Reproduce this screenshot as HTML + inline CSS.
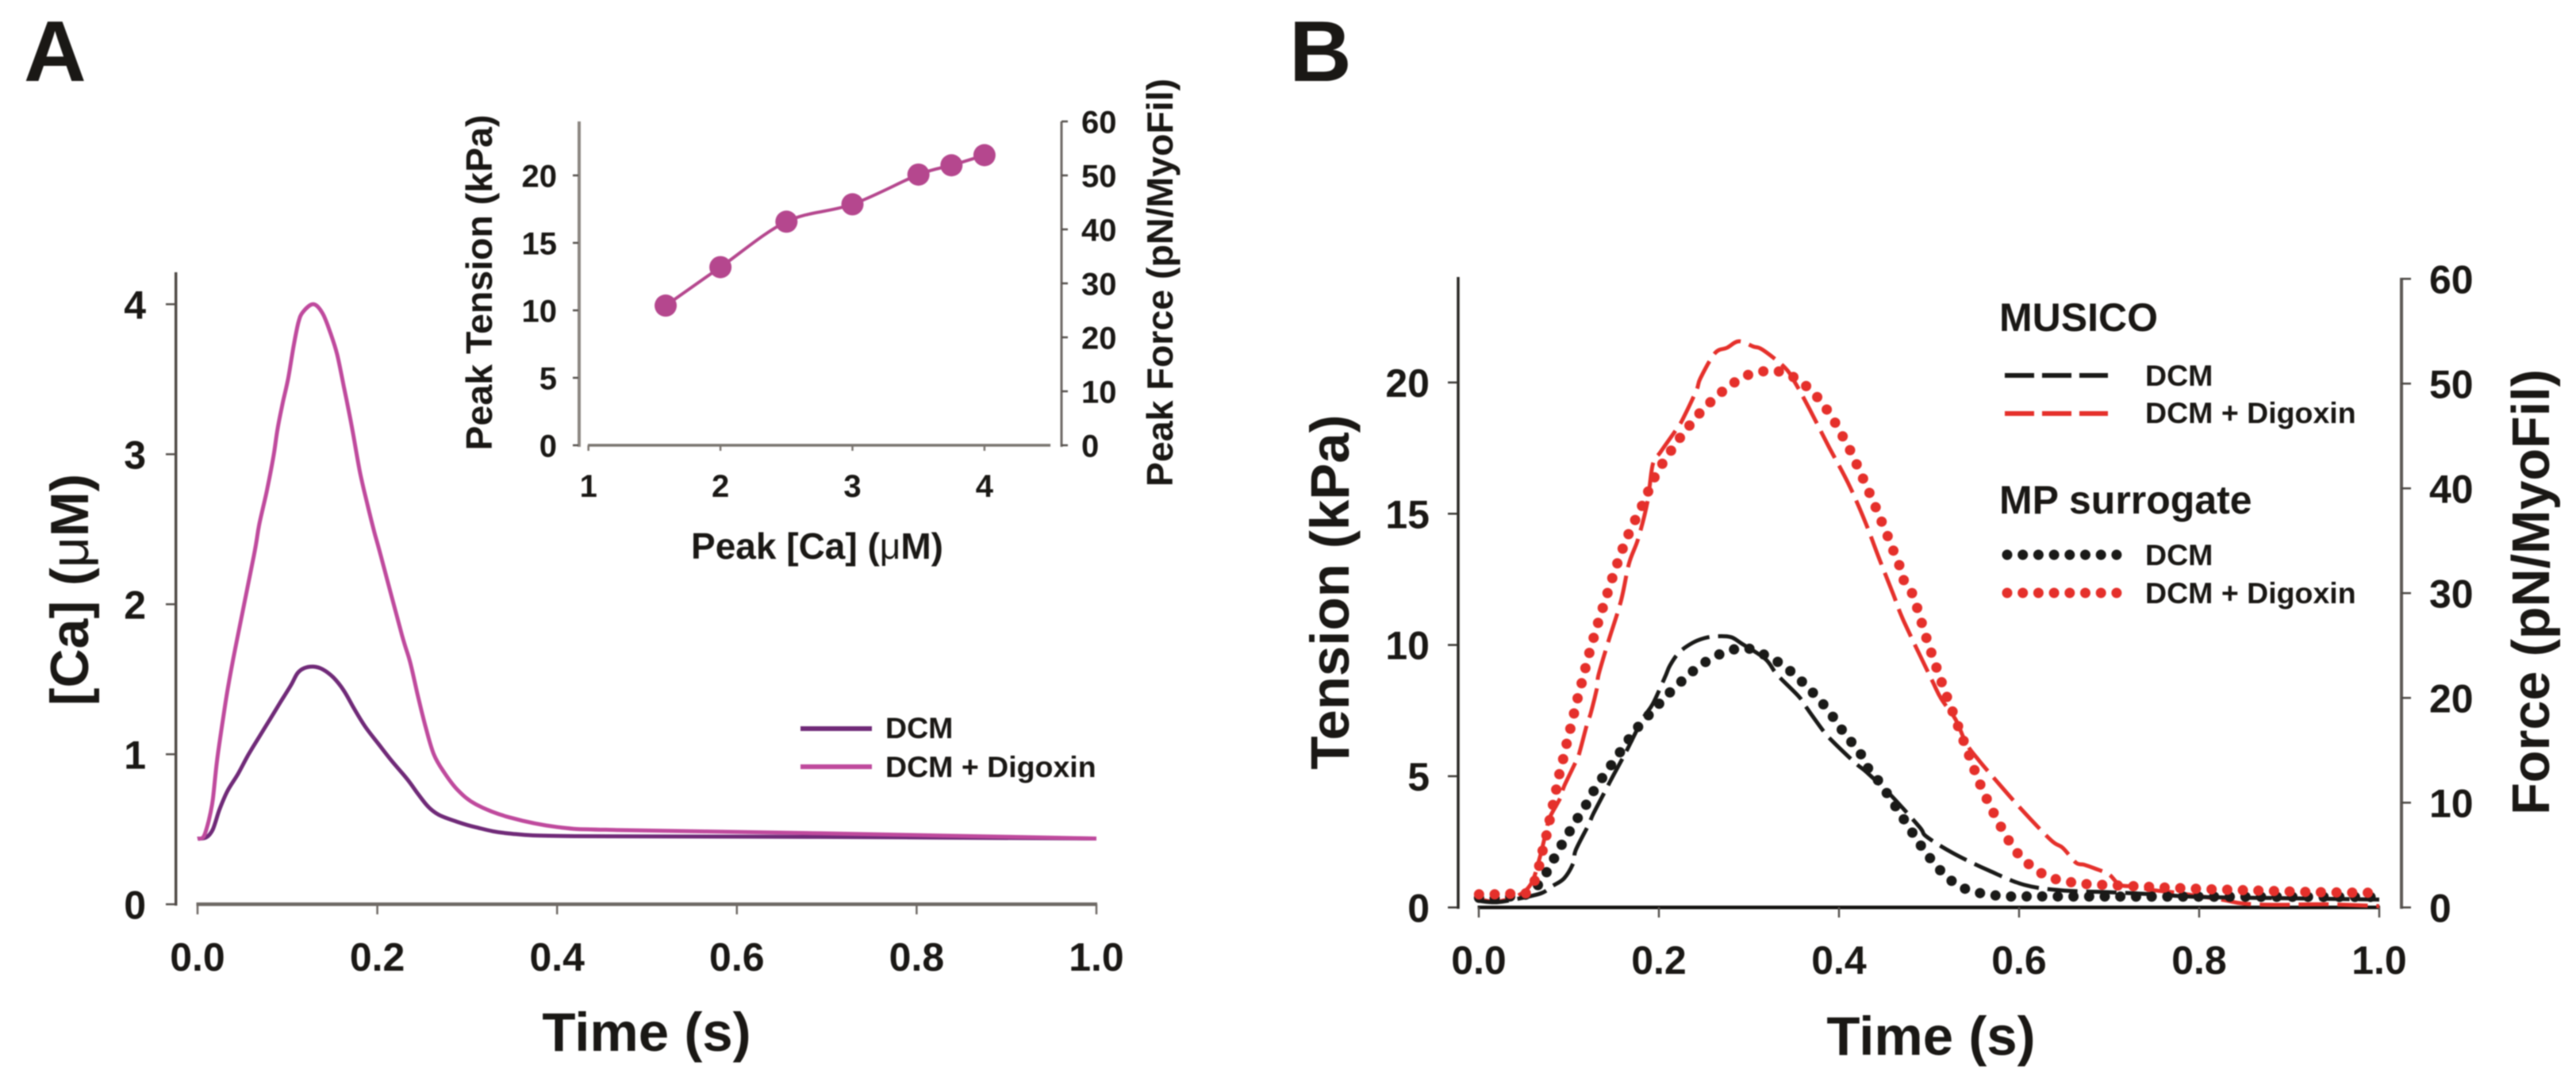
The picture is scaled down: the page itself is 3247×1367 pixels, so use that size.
<!DOCTYPE html>
<html lang="en">
<head>
<meta charset="utf-8">
<title>Calcium transient and tension, panels A and B</title>
<style>
html,body{margin:0;padding:0;background:#fff;width:3247px;height:1367px;overflow:hidden}
svg{display:block;font-family:"Liberation Sans",Arial,sans-serif;font-weight:700;fill:#1a1815;filter:blur(0.7px)}
</style>
</head>
<body>
<svg id="fig" xmlns="http://www.w3.org/2000/svg" width="3247" height="1367" viewBox="0 0 3247 1367">
  <rect width="3247" height="1367" fill="#fff"/>
  <text x="30" y="102" font-size="109">A</text>
  <text x="1625" y="102" font-size="109">B</text>

  <text x="815" y="1324" font-size="69" text-anchor="middle">Time (s)</text>
  <text transform="translate(111,743) rotate(-90)" font-size="68" text-anchor="middle">[Ca] (<tspan font-weight="400">μ</tspan>M)</text>

  <text x="1030" y="704" font-size="46" text-anchor="middle">Peak [Ca] (<tspan font-weight="400">μ</tspan>M)</text>
  <text transform="translate(620,356) rotate(-90)" font-size="46.5" text-anchor="middle">Peak Tension (kPa)</text>
  <text transform="translate(1478,356) rotate(-90)" font-size="46.5" text-anchor="middle">Peak Force (pN/MyoFil)</text>

  <g>
    <line x1="1009" x2="1099" y1="918" y2="918" stroke="#702a78" stroke-width="6"/>
    <line x1="1009" x2="1099" y1="966" y2="966" stroke="#bf4a9d" stroke-width="6"/>
    <text x="1116" y="930" font-size="37.5">DCM</text>
    <text x="1116" y="979" font-size="37.5">DCM + Digoxin</text>
  </g>

  <text x="2434" y="1329" font-size="69" text-anchor="middle">Time (s)</text>
  <text transform="translate(1700,746) rotate(-90)" font-size="69" text-anchor="middle">Tension (kPa)</text>
  <text transform="translate(3213,746) rotate(-90)" font-size="66.5" text-anchor="middle">Force (pN/MyoFil)</text>

  <g>
    <text x="2520" y="417" font-size="50">MUSICO</text>
    <line x1="2527" x2="2657" y1="473" y2="473" stroke="#1a1a18" stroke-width="6" stroke-dasharray="37 10"/>
    <line x1="2527" x2="2657" y1="521" y2="521" stroke="#e5302b" stroke-width="6" stroke-dasharray="37 10"/>
    <text x="2704" y="486" font-size="37.5">DCM</text>
    <text x="2704" y="533" font-size="37.5">DCM + Digoxin</text>
    <text x="2520" y="647" font-size="50">MP surrogate</text>
    <line x1="2530" x2="2669" y1="699" y2="699" stroke="#1a1a18" stroke-width="13" stroke-linecap="round" stroke-dasharray="0 19.7"/>
    <line x1="2530" x2="2669" y1="747" y2="747" stroke="#e5302b" stroke-width="13" stroke-linecap="round" stroke-dasharray="0 19.7"/>
    <text x="2704" y="712" font-size="37.5">DCM</text>
    <text x="2704" y="760" font-size="37.5">DCM + Digoxin</text>
  </g>
</svg>
<script>
// ---- Tick labels
const timeTicks = ["0.0", "0.2", "0.4", "0.6", "0.8", "1.0"];
const caTicks = ["0", "1", "2", "3", "4"];
const insetCaTicks = ["1", "2", "3", "4"];
const insetTensionTicks = ["0", "5", "10", "15", "20"];
const insetForceTicks = ["0", "10", "20", "30", "40", "50", "60"];
const tensionTicks = ["0", "5", "10", "15", "20"];
const forceTicks = ["0", "10", "20", "30", "40", "50", "60"];

// ---- Panel A: [Ca] transients
const caDcmTime = [0, .0097, .017, .0244, .0333, .045, .0568, .0686, .0803, .0921, .1039, .1112, .1186, .1289, .1392, .1509, .1627, .1745, .1862, .2009, .2157, .2333, .2451, .2568, .2686, .2862, .3098, .3466, .4197, .69, 1];
const caDcmValues = [.437, .446, .499, .631, .755, .869, 1, 1.116, 1.23, 1.346, 1.46, 1.54, 1.574, 1.584, 1.566, 1.513, 1.425, 1.301, 1.187, 1.072, .958, .834, .737, .649, .596, .555, .513, .472, .454, .449, .438];
const caDigTime = [0, .0068, .0126, .017, .0215, .0274, .0333, .042, .0627, .0686, .0774, .0847, .0891, .095, .1009, .1068, .1121, .1171, .1289, .1392, .148, .1553, .1627, .1715, .1804, .1892, .1966, .2039, .2274, .2363, .2451, .2539, .2628, .2745, .2892, .3098, .3466, .4014, .4652, .6936, 1];
const caDigValues = [.437, .451, .561, .7, .95, 1.196, 1.425, 1.707, 2.324, 2.53, 2.765, 2.995, 3.172, 3.348, 3.507, 3.718, 3.876, 3.947, 4, 3.938, 3.806, 3.665, 3.453, 3.188, 2.889, 2.66, 2.483, 2.324, 1.795, 1.619, 1.39, 1.178, 1, .878, .763, .666, .58, .514, .495, .473, .438];

// ---- Panel A inset: peak tension vs peak [Ca]
const insetPeakCa = [1.585, 2, 2.5, 3, 3.5, 3.75, 4];
const insetPeakTension = [10.35, 13.2, 16.57, 17.86, 20.06, 20.75, 21.5];

// ---- Panel B: tension traces
const musicoDcmTime = [0, .0201, .0465, .0699, .0816, .0948, .1052, .1075, .1219, .1272, .1419, .1478, .1639, .1816, .1933, .2067, .2123, .2226, .2373, .2505, .2637, .2799, .2916, .3181, .3313, .3548, .363, .3827, .3923, .4179, .4311, .4575, .4893, .4972, .5266, .5663, .6059, .647, .7, .75, .8, .9, 1];
const musicoDcmValues = [.25, .2, .35, .55, .81, 1.11, 1.71, 2.17, 3.15, 3.57, 4.54, 4.93, 5.95, 7.16, 7.76, 8.77, 9.22, 9.72, 10.08, 10.26, 10.33, 10.3, 10.06, 9.47, 8.87, 8.06, 7.66, 6.72, 6.35, 5.51, 5.14, 4.28, 3.07, 2.7, 2.07, 1.41, .86, .65, .58, .5, .4, .35, .3];
const musicoDigTime = [.0021, .0201, .0435, .0582, .067, .0743, .0787, .0905, .0949, .1087, .1125, .1205, .1243, .1316, .133, .1448, .158, .1668, .1771, .1874, .1932, .202, .2211, .2279, .2417, .2461, .2623, .2755, .2887, .3049, .3151, .3401, .3518, .3674, .3885, .41, .4282, .4443, .4605, .4722, .5031, .5134, .5295, .5413, .5545, .5706, .6015, .6352, .6485, .6631, .672, .6837, .6998, .7117, .7278, .7513, .7748, .8247, .8482, .8837, .9417, 1];
const musicoDigValues = [.3, .22, .45, .91, 1.81, 2.82, 3.42, 4.17, 4.63, 5.62, 5.99, 7.02, 7.4, 8.42, 8.87, 10.23, 11.69, 13.1, 14.06, 15.47, 16.88, 17.36, 18.29, 18.7, 19.7, 20.16, 21.12, 21.32, 21.57, 21.37, 21.25, 20.56, 19.96, 18.98, 17.57, 16.18, 14.77, 13.32, 11.91, 10.89, 8.67, 7.96, 7.16, 6.25, 5.64, 4.99, 3.78, 2.57, 2.27, 1.71, 1.63, 1.49, 1.26, .86, .8, .65, .56, .3, .15, .1, .12, .05];
const mpDcmTime = [.0003, .0176, .0352, .0529, .0684, .0787, .0884, .0987, .109, .1198, .1295, .1413, .1536, .1654, .1786, .1942, .2104, .2279, .2441, .2623, .2799, .2969, .3137, .3313, .3489, .366, .3821, .3959, .4077, .4223, .4324, .4452, .4678, .4907, .5034, .5192, .5363, .5539, .5712, .5888, .6238, .8, 1];
const mpDcmValues = [.37, .35, .42, .5, .96, 1.56, 2.17, 2.77, 3.36, 3.95, 4.55, 5.14, 5.75, 6.35, 6.95, 7.53, 8.13, 8.7, 9.17, 9.56, 9.8, 9.88, 9.68, 9.37, 8.92, 8.36, 7.76, 7.14, 6.55, 5.95, 5.3, 4.76, 3.58, 2.37, 1.78, 1.18, .77, .57, .47, .42, .42, .41, .4];
const mpDigTime = [.0003, .0176, .0352, .0529, .0626, .0676, .0714, .0758, .0793, .0831, .0869, .0905, .0949, .0987, .1031, .1072, .1113, .116, .1204, .1301, .141, .1524, .1656, .1821, .1976, .2203, .2332, .2479, .2652, .2825, .2998, .3172, .3345, .3518, .3698, .3841, .3953, .405, .4141, .422, .4297, .4376, .4449, .4523, .459, .4663, .4714, .482, .4987, .5163, .5295, .5427, .5559, .5721, .5918, .6065, .6235, .6405, .6581, .6758, .7272, .7973, .8669, .9354, .9886];
const mpDigValues = [.5, .5, .52, .55, 1.06, 1.66, 2.24, 2.84, 3.43, 4.03, 4.64, 5.24, 5.82, 6.42, 7, 7.61, 8.19, 8.77, 9.4, 10.58, 11.77, 12.97, 14.17, 15.36, 16.55, 17.74, 18.33, 18.93, 19.5, 19.97, 20.3, 20.43, 20.41, 20.16, 19.67, 19.08, 18.49, 17.89, 17.3, 16.7, 16.11, 15.5, 14.9, 14.3, 13.71, 13.11, 12.51, 11.9, 10.1, 8.36, 7.16, 5.95, 4.77, 3.58, 2.37, 1.78, 1.33, 1.08, .96, .89, .81, .71, .64, .58, .56];

// ---- Axis functions
const axA = { x: t => 249 + 1133 * t, y: v => 1139.3 - 189 * v };
const axI = { x: c => 741.7 + 166.4 * (c - 1), y: v => 561 - 17 * v, yR: f => 561 - 6.8 * f };
const axB = { x: t => 1864 + 1135 * t, y: v => 1143.3 - 33.07 * v, yR: f => 1143.3 - 13.2 * f };

const svg = document.getElementById('fig');
const NS = 'http://www.w3.org/2000/svg';
function make(tag, props) {
  const el = document.createElementNS(NS, tag);
  for (const k in props) el.setAttribute(k, props[k]);
  svg.appendChild(el);
  return el;
}
function axisLine(x1, y1, x2, y2, color, width, name) {
  const el = make('line', { x1: x1, y1: y1, x2: x2, y2: y2, stroke: color, 'stroke-width': width });
  
  
  return el;
}
function tickLabel(x, y, str, size, anchor, name) {
  const el = make('text', { x: x, y: y, 'font-size': size, 'text-anchor': anchor });
  el.textContent = str;
  
  
  return el;
}
// Smooth (Catmull-Rom) path through the data points
function smoothPath(px, py) {
  let d = 'M' + px[0].toFixed(1) + ',' + py[0].toFixed(1);
  const n = px.length;
  for (let i = 0; i < n - 1; i++) {
    const a = Math.max(i - 1, 0), b = Math.min(i + 2, n - 1);
    const c1x = px[i] + (px[i + 1] - px[a]) / 6, c1y = py[i] + (py[i + 1] - py[a]) / 6;
    const c2x = px[i + 1] - (px[b] - px[i]) / 6, c2y = py[i + 1] - (py[b] - py[i]) / 6;
    d += 'C' + c1x.toFixed(1) + ',' + c1y.toFixed(1) + ' ' + c2x.toFixed(1) + ',' + c2y.toFixed(1) + ' ' + px[i + 1].toFixed(1) + ',' + py[i + 1].toFixed(1);
  }
  return d;
}
function trace(xs, ys, fx, fy, style, name) {
  const el = make('path', Object.assign({ d: smoothPath(xs.map(fx), ys.map(fy)), fill: 'none', 'stroke-linejoin': 'round' }, style));
  
  
  return el;
}

// ---- Panel A axes
axisLine(221.7, 343, 221.7, 1141, '#4f4a46', 3.5, 'panel-a-y-axis');
axisLine(247.5, 1139.3, axA.x(1) + 1, 1139.3, '#6e6965', 4.5, 'panel-a-x-axis');
caTicks.forEach(s => {
  const v = parseFloat(s);
  axisLine(209, axA.y(v), 221, axA.y(v), '#55504c', 2.5, 'panel-a-y-tick-' + s);
  tickLabel(184, axA.y(v) + 18, s, 50, 'end', 'panel-a-y-tick-label-' + s);
});
timeTicks.forEach(s => {
  const t = parseFloat(s);
  axisLine(axA.x(t), 1139, axA.x(t), 1152, '#6e6965', 2.5, 'panel-a-x-tick-' + s);
  tickLabel(axA.x(t), 1223, s, 50, 'middle', 'panel-a-x-tick-label-' + s);
});

// ---- Panel A traces
trace(caDcmTime, caDcmValues, axA.x, axA.y, { stroke: '#702a78', 'stroke-width': 5 }, 'ca-trace-dcm');
trace(caDigTime, caDigValues, axA.x, axA.y, { stroke: '#bf4a9d', 'stroke-width': 5 }, 'ca-trace-dcm-digoxin');

// ---- Inset axes
axisLine(730, 153, 730, 563, '#8c8782', 4, 'inset-left-axis');
axisLine(1338, 153, 1338, 563, '#6e6965', 3, 'inset-right-axis');
axisLine(741, 561, axI.x(4.5), 561, '#7a7570', 3.5, 'inset-x-axis');
insetTensionTicks.forEach(s => {
  const v = parseFloat(s);
  axisLine(722, axI.y(v), 729, axI.y(v), '#55504c', 2.5, 'inset-left-tick-' + s);
  tickLabel(702, axI.y(v) + 14.5, s, 40, 'end', 'inset-left-tick-label-' + s);
});
insetForceTicks.forEach(s => {
  const f = parseFloat(s);
  axisLine(1338, axI.yR(f), 1346, axI.yR(f), '#55504c', 2.5, 'inset-right-tick-' + s);
  tickLabel(1363, axI.yR(f) + 14.5, s, 40, 'start', 'inset-right-tick-label-' + s);
});
insetCaTicks.forEach(s => {
  const c = parseFloat(s);
  axisLine(axI.x(c), 561, axI.x(c), 568, '#7a7570', 2.5, 'inset-x-tick-' + s);
  tickLabel(axI.x(c), 626, s, 40, 'middle', 'inset-x-tick-label-' + s);
});

// ---- Inset series
trace(insetPeakCa, insetPeakTension, axI.x, axI.y, { stroke: '#b5478e', 'stroke-width': 4 }, 'inset-curve');
insetPeakCa.forEach((c, i) => {
  const dot = make('circle', { cx: axI.x(c), cy: axI.y(insetPeakTension[i]), r: 14, fill: '#b5478e' });
  
  
});

// ---- Panel B axes
axisLine(1838, 349, 1838, 1145, '#2a2825', 3.5, 'panel-b-left-axis');
axisLine(3027, 350, 3027, 1145, '#5e5a56', 4, 'panel-b-right-axis');
axisLine(1862.5, 1143.3, axB.x(1) + 1, 1143.3, '#141311', 4.5, 'panel-b-x-axis');
tensionTicks.forEach(s => {
  const v = parseFloat(s);
  axisLine(1825, axB.y(v), 1837, axB.y(v), '#3a3835', 2.5, 'panel-b-left-tick-' + s);
  tickLabel(1802, axB.y(v) + 18, s, 50, 'end', 'panel-b-left-tick-label-' + s);
});
forceTicks.forEach(s => {
  const f = parseFloat(s);
  axisLine(3027, axB.yR(f), 3039, axB.yR(f), '#4a4743', 2.5, 'panel-b-right-tick-' + s);
  tickLabel(3062, axB.yR(f) + 18, s, 50, 'start', 'panel-b-right-tick-label-' + s);
});
timeTicks.forEach(s => {
  const t = parseFloat(s);
  axisLine(axB.x(t), 1143, axB.x(t), 1156, '#55504c', 2.5, 'panel-b-x-tick-' + s);
  tickLabel(axB.x(t), 1227, s, 50, 'middle', 'panel-b-x-tick-label-' + s);
});

// ---- Panel B traces
trace(musicoDigTime, musicoDigValues, axB.x, axB.y, { stroke: '#e5302b', 'stroke-width': 5, 'stroke-dasharray': '38 11' }, 'musico-trace-dcm-digoxin');
trace(musicoDcmTime, musicoDcmValues, axB.x, axB.y, { stroke: '#1a1a18', 'stroke-width': 5, 'stroke-dasharray': '38 11' }, 'musico-trace-dcm');
trace(mpDcmTime, mpDcmValues, axB.x, axB.y, { stroke: '#1a1a18', 'stroke-width': 13, 'stroke-linecap': 'round', 'stroke-dasharray': '0 19.7' }, 'mp-trace-dcm');
trace(mpDigTime, mpDigValues, axB.x, axB.y, { stroke: '#e5302b', 'stroke-width': 13, 'stroke-linecap': 'round', 'stroke-dasharray': '0 19.7' }, 'mp-trace-dcm-digoxin');
</script>
</body>
</html>
